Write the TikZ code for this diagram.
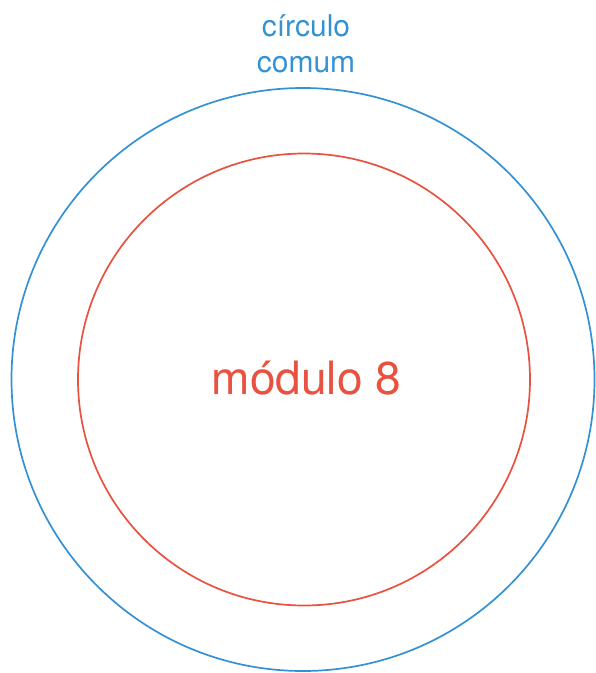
\documentclass[tikz,border=0pt]{standalone}
\usepackage{fontspec}
\setmainfont{TeX Gyre Heros}
\definecolor{cblue}{RGB}{52,146,212}
\definecolor{cred}{RGB}{232,82,64}
\begin{document}
\begin{tikzpicture}[x=1pt,y=-1pt,
  ring/.style={line width=1.7pt},
  lbl/.style={inner sep=0pt,align=center}]
\useasboundingbox (0,0) rectangle (596,673);
\node[ring,draw=cblue,circle,minimum size=583pt,inner sep=0pt] (outer) at (303,379.5) {};
\node[ring,draw=cred,circle,minimum size=452pt,inner sep=0pt] (inner) at (304,379.5) {};
\node[lbl,text=cblue,anchor=base,font=\fontsize{30}{36}\selectfont] (title) at (306,72) {círculo\\comum};
\node[lbl,text=cred,anchor=base,font=\fontsize{46}{54}\selectfont] (mod) at (306.5,394) {módulo 8};
\end{tikzpicture}
\end{document}
